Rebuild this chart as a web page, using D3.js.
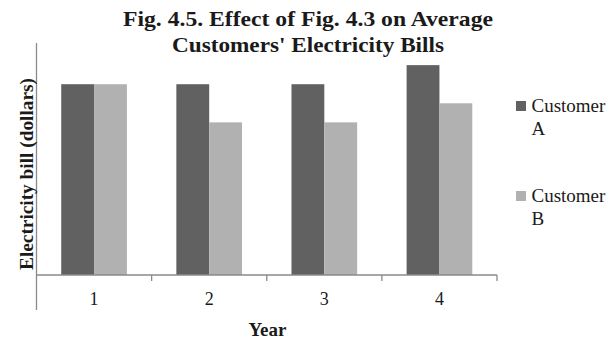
<!DOCTYPE html>
<html>
<head>
<meta charset="utf-8">
<script src="https://cdn.jsdelivr.net/npm/d3@7"></script>
<style>
  html, body { margin: 0; padding: 0; background: #fff; }
  svg { display: block; }
  text { font-family: "Liberation Serif", "Times New Roman", serif; fill: #1a1a1a; }
</style>
</head>
<body>
<svg id="chart" width="613" height="344"></svg>
<script>
// Average electricity bill per year for two customers
const years = ["1", "2", "3", "4"];
const seriesNames = ["Customer A", "Customer B"];
const customerA = [100, 100, 100, 110];
const customerB = [100, 80, 80, 90];
const colors = ["#616161", "#b1b1b1"];

const svg = d3.select("#chart");
const plotLeft = 36.5, plotRight = 497, plotTop = 43, baseline = 275;

const x = d3.scaleBand().domain(years).range([plotLeft, plotRight]).paddingInner(0).paddingOuter(0);
const inner = d3.scaleBand().domain(seriesNames).range([0, x.bandwidth()]).paddingInner(0).paddingOuter(0.753);
const y = d3.scaleLinear().domain([0, 121.6]).range([baseline, plotTop]);

// Title, two centred lines
const titleLines = [
  { text: "Fig. 4.5. Effect of Fig. 4.3 on Average", y: 26, len: 370 },
  { text: "Customers' Electricity Bills", y: 52.3, len: 272 }
];
svg.append("g").selectAll("text").data(titleLines).join("text")
  .attr("x", 308)
  .attr("y", d => d.y)
  .attr("text-anchor", "middle")
  .attr("font-weight", "bold")
  .attr("font-size", 22)
  .attr("textLength", d => d.len)
  .attr("lengthAdjust", "spacingAndGlyphs")
  .text(d => d.text);

// Bars
const rows = years.map((yr, i) => ({ year: yr, values: [customerA[i], customerB[i]] }));
const groups = svg.append("g").selectAll("g").data(rows).join("g")
  .attr("transform", d => `translate(${x(d.year)},0)`);
groups.selectAll("rect")
  .data(d => d.values.map((v, j) => ({ name: seriesNames[j], value: v, color: colors[j] })))
  .join("rect")
  .attr("x", d => inner(d.name))
  .attr("width", inner.bandwidth())
  .attr("y", d => y(d.value))
  .attr("height", d => baseline - y(d.value))
  .attr("fill", d => d.color);

// Vertical axis line
svg.append("line")
  .attr("x1", plotLeft).attr("x2", plotLeft)
  .attr("y1", plotTop).attr("y2", 310)
  .attr("stroke", "#8a8a8a").attr("stroke-width", 1.3);

// Category axis with boundary ticks
const xAxis = svg.append("g").attr("transform", `translate(0,${baseline})`);
xAxis.append("line").attr("x1", plotLeft).attr("x2", plotRight).attr("stroke", "#8a8a8a").attr("stroke-width", 1.3);
xAxis.selectAll(".tick-mark").data(years).join("line")
  .attr("class", "tick-mark")
  .attr("x1", d => x(d) + x.bandwidth())
  .attr("x2", d => x(d) + x.bandwidth())
  .attr("y1", 0).attr("y2", 6)
  .attr("stroke", "#8a8a8a").attr("stroke-width", 1.3);
xAxis.selectAll(".tick-label").data(years).join("text")
  .attr("class", "tick-label")
  .attr("x", d => x(d) + x.bandwidth() / 2)
  .attr("y", 30)
  .attr("text-anchor", "middle")
  .attr("font-size", 18)
  .text(d => d);

// Axis titles
svg.append("text")
  .attr("x", 267.5).attr("y", 335.5)
  .attr("text-anchor", "middle")
  .attr("font-weight", "bold")
  .attr("font-size", 19)
  .text("Year");
svg.append("text")
  .attr("transform", "translate(33,174) rotate(-90)")
  .attr("text-anchor", "middle")
  .attr("font-weight", "bold")
  .attr("font-size", 19)
  .attr("textLength", 192)
  .attr("lengthAdjust", "spacingAndGlyphs")
  .text("Electricity bill (dollars)");

// Legend
const legendY = [101, 191];
const legend = svg.append("g").selectAll("g").data(seriesNames).join("g")
  .attr("transform", (d, i) => `translate(516,${legendY[i]})`);
legend.append("rect").attr("width", 10).attr("height", 10).attr("fill", (d, i) => colors[i]);
const lt = legend.append("text").attr("font-size", 19);
lt.append("tspan").attr("x", 15.5).attr("y", 10.5).text(d => d.split(" ")[0]);
lt.append("tspan").attr("x", 15.5).attr("y", 34).text(d => d.split(" ")[1]);
</script>
</body>
</html>
